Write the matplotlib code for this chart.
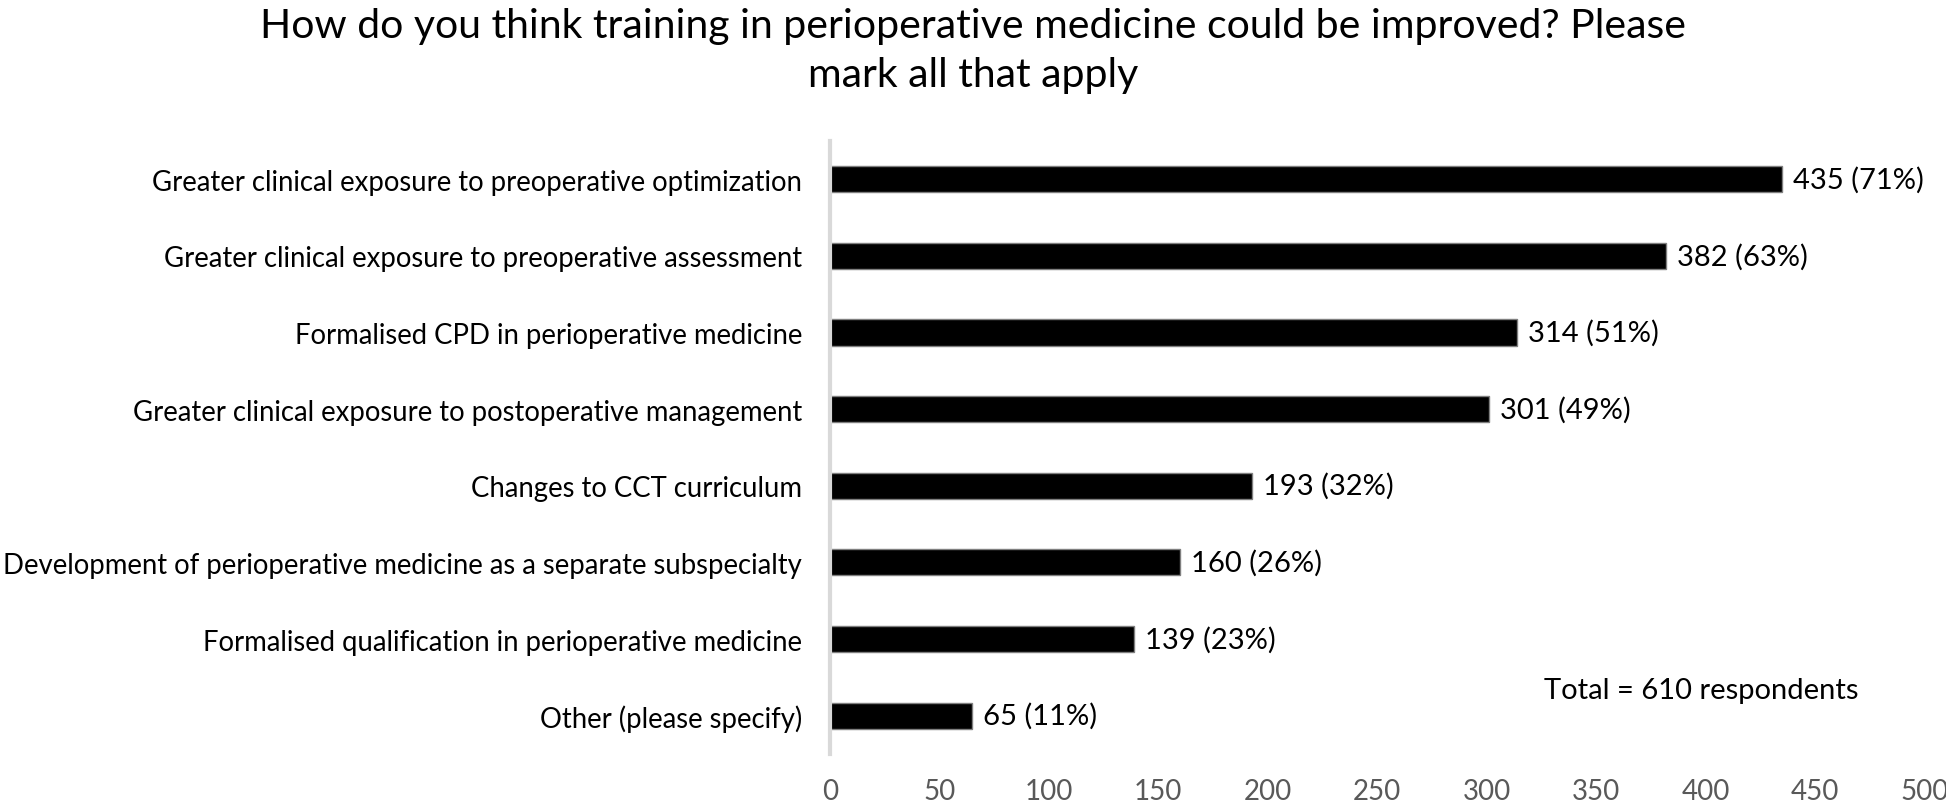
import matplotlib
matplotlib.use("Agg")
import matplotlib.pyplot as plt

plt.rcParams["font.family"] = ["Lato", "DejaVu Sans"]

categories = [
    "Greater clinical exposure to preoperative optimization",
    "Greater clinical exposure to preoperative assessment",
    "Formalised CPD in perioperative medicine",
    "Greater clinical exposure to postoperative management",
    "Changes to CCT curriculum",
    "Development of perioperative medicine as a separate subspecialty",
    "Formalised qualification in perioperative medicine",
    "Other (please specify)",
]
counts = [435, 382, 314, 301, 193, 160, 139, 65]
percents = [71, 63, 51, 49, 32, 26, 23, 11]
total = 610
xticks = [0, 50, 100, 150, 200, 250, 300, 350, 400, 450, 500]

fig = plt.figure(figsize=(19.46, 8.04), dpi=100)
ax = fig.add_axes([0.4265, 0.061, 0.5625, 0.7625])

ypos = list(range(len(categories)))
ax.barh(ypos, counts, height=0.34, color="black", edgecolor="#7f7f7f", linewidth=1)
for y, c, p in zip(ypos, counts, percents):
    ax.text(c + 5, y, f"{c} ({p}%)", va="center", ha="left", fontsize=21, color="black")

ax.set_ylim(len(categories) - 0.5, -0.5)
ax.set_xlim(0, 500)
ax.set_yticks(ypos)
ax.set_yticklabels(categories, fontsize=19.8, color="black")
ax.set_xticks(xticks)
ax.set_xticklabels([str(t) for t in xticks], fontsize=20, color="#595959")
ax.tick_params(axis="y", length=0, pad=20)
ax.tick_params(axis="x", length=0, pad=17)

for s in ["top", "right", "bottom"]:
    ax.spines[s].set_visible(False)
ax.spines["left"].set_color("#d9d9d9")
ax.spines["left"].set_linewidth(3)

ax.text(0.94, 0.104, f"Total = {total} respondents", transform=ax.transAxes,
        ha="right", va="center", fontsize=21, color="black")

fig.text(0.5, 0.99, "How do you think training in perioperative medicine could be improved? Please\nmark all that apply",
         ha="center", va="top", fontsize=29.5, linespacing=1.4, color="black")

fig.savefig("out.png", dpi=100)
